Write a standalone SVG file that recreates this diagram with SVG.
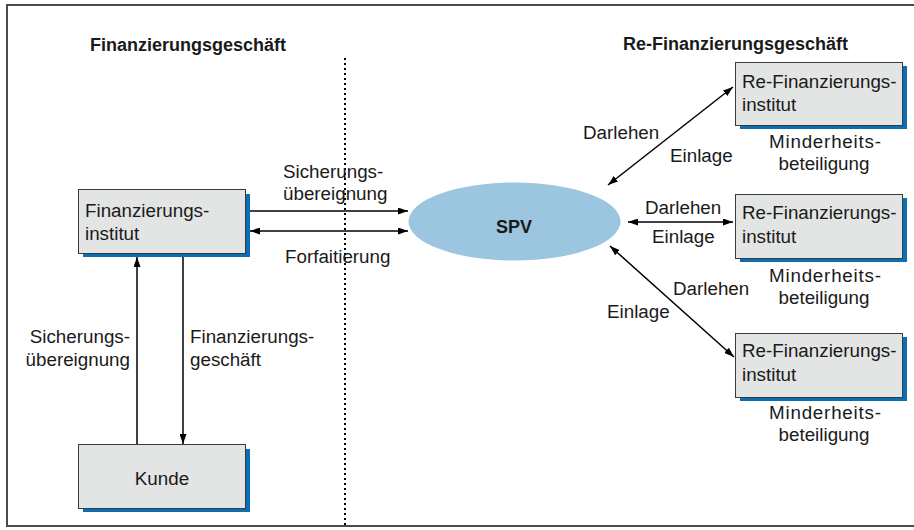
<svg xmlns="http://www.w3.org/2000/svg" width="914" height="530" viewBox="0 0 914 530">
<style>
  text { font-family: "Liberation Sans", Arial, sans-serif; font-size: 18.8px; fill: #1a1a1a; }
  .title { font-weight: bold; font-size: 18px; }
  .bold { font-weight: bold; font-size: 18px; }
  .box { fill: #e3e4e4; stroke: #3a3a3a; stroke-width: 1; }
  .shadow { fill: #0a6fb5; }
  .conn { stroke: #000; stroke-width: 1.5; fill: none; }
  .frame { stroke: #4a4a4a; stroke-width: 2; fill: none; }
</style>
<defs>
  <marker id="ah" viewBox="0 0 10 7" refX="10" refY="3.5" markerWidth="10" markerHeight="7" markerUnits="userSpaceOnUse" orient="auto-start-reverse">
    <path d="M0,0 L10,3.5 L0,7 z" fill="#000"/>
  </marker>
</defs>
<rect width="914" height="530" fill="#fff"/>
<path class="frame" d="M914,5 H7 V526 H914"/>
<text class="title" x="90" y="51">Finanzierungsgeschäft</text>
<text class="title" x="623" y="50">Re-Finanzierungsgeschäft</text>
<line x1="345" y1="58" x2="345" y2="526" stroke="#000" stroke-width="2" stroke-dasharray="2,3"/>

<g id="connectors">
  <line class="conn" x1="245" y1="211" x2="408" y2="211" marker-end="url(#ah)"/>
  <line class="conn" x1="250" y1="231" x2="408" y2="231" marker-start="url(#ah)" marker-end="url(#ah)"/>
  <line class="conn" x1="137" y1="444" x2="137" y2="257" marker-end="url(#ah)"/>
  <line class="conn" x1="183" y1="257" x2="183" y2="444" marker-end="url(#ah)"/>
  <line class="conn" x1="608" y1="185" x2="733" y2="87" marker-start="url(#ah)" marker-end="url(#ah)"/>
  <line class="conn" x1="628" y1="222" x2="733" y2="222" marker-start="url(#ah)" marker-end="url(#ah)"/>
  <line class="conn" x1="610" y1="246" x2="734" y2="357" marker-start="url(#ah)" marker-end="url(#ah)"/>
  <text x="283" y="178">Sicherungs-</text>
  <text x="283" y="200">übereignung</text>
  <text x="285" y="263">Forfaitierung</text>
  <text x="130" y="343" text-anchor="end">Sicherungs-</text>
  <text x="130" y="366" text-anchor="end">übereignung</text>
  <text x="190" y="343">Finanzierungs-</text>
  <text x="190" y="366">geschäft</text>
  <text x="583" y="139">Darlehen</text>
  <text x="670" y="162">Einlage</text>
  <text x="645" y="214">Darlehen</text>
  <text x="652" y="243">Einlage</text>
  <text x="673" y="295">Darlehen</text>
  <text x="607" y="318">Einlage</text>
</g>

<g id="finanzierungsinstitut">
  <rect class="shadow" x="83" y="194" width="167" height="63"/>
  <rect class="box" x="78.5" y="189.5" width="167" height="64"/>
  <text x="85" y="217">Finanzierungs-</text>
  <text x="85" y="240">institut</text>
</g>

<g id="kunde">
  <rect class="shadow" x="83" y="449" width="167" height="63"/>
  <rect class="box" x="78.5" y="444.5" width="167" height="64"/>
  <text x="162" y="485" text-anchor="middle">Kunde</text>
</g>

<g id="spv">
  <ellipse cx="514.5" cy="221.5" rx="106" ry="39" fill="#9cc5e0"/>
  <text class="bold" x="514" y="233" text-anchor="middle">SPV</text>
</g>

<g id="refi1">
  <rect class="shadow" x="740" y="66" width="167" height="63"/>
  <rect class="box" x="735.5" y="62.5" width="167" height="63"/>
  <text x="742" y="88">Re-Finanzierungs-</text>
  <text x="742" y="111">institut</text>
  <text x="825" y="148" text-anchor="middle" textLength="112" lengthAdjust="spacing">Minderheits-</text>
  <text x="824" y="170" text-anchor="middle">beteiligung</text>
</g>

<g id="refi2">
  <rect class="shadow" x="740" y="198" width="167" height="64"/>
  <rect class="box" x="735.5" y="194.5" width="167" height="64"/>
  <text x="742" y="219">Re-Finanzierungs-</text>
  <text x="742" y="243">institut</text>
  <text x="825" y="282" text-anchor="middle" textLength="112" lengthAdjust="spacing">Minderheits-</text>
  <text x="824" y="304" text-anchor="middle">beteiligung</text>
</g>

<g id="refi3">
  <rect class="shadow" x="740" y="337" width="167" height="64"/>
  <rect class="box" x="735.5" y="333.5" width="167" height="64"/>
  <text x="742" y="357">Re-Finanzierungs-</text>
  <text x="742" y="381">institut</text>
  <text x="825" y="419" text-anchor="middle" textLength="112" lengthAdjust="spacing">Minderheits-</text>
  <text x="824" y="441" text-anchor="middle">beteiligung</text>
</g>
</svg>
